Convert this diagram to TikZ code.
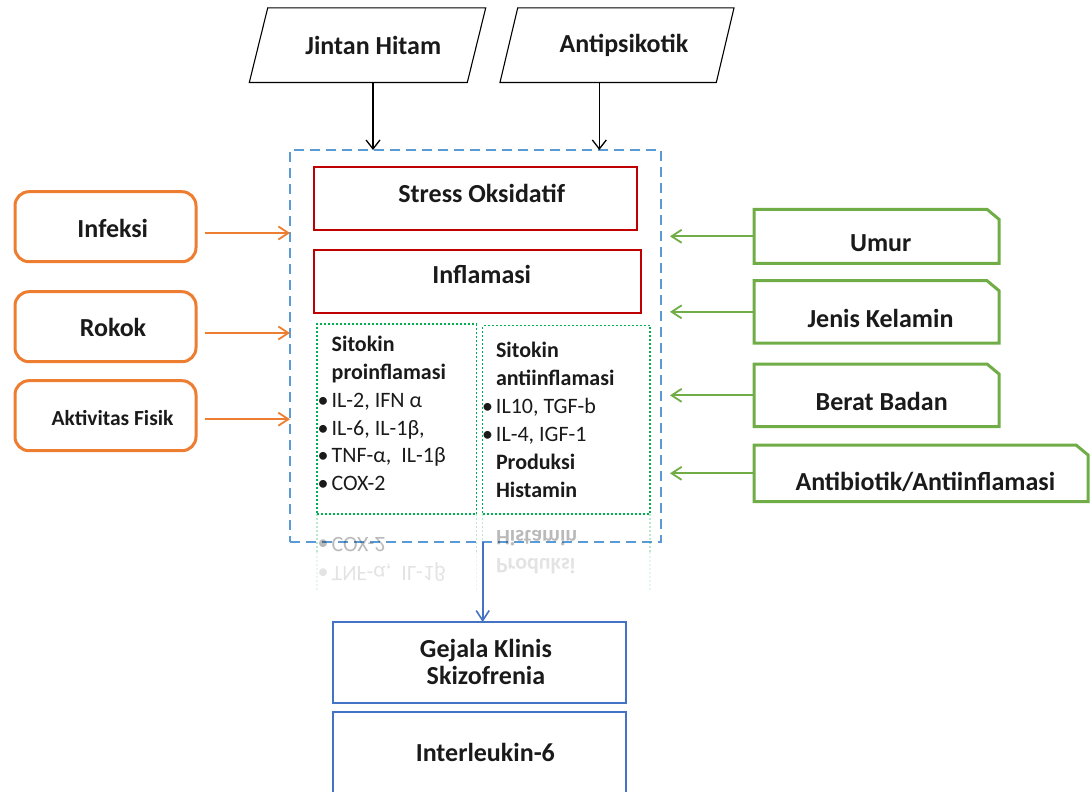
\documentclass[tikz,border=0pt]{standalone}
\usepackage{fontspec}
\setmainfont{Carlito}
\usepackage{graphicx}
\usetikzlibrary{arrows.meta,calc}

\definecolor{orng}{HTML}{ED7D31}
\definecolor{grn}{HTML}{70AD47}
\definecolor{dotgrn}{HTML}{00B050}
\definecolor{frameblue}{HTML}{5B9BD5}
\definecolor{boxred}{HTML}{C00000}
\definecolor{boxblue}{HTML}{4472C4}
\definecolor{txt}{HTML}{1A1A1A}

\newcommand{\bul}{\llap{\textbullet\hspace{3pt}}}

\begin{document}
\begin{tikzpicture}[x=1pt,y=-1pt,
  every node/.style={inner sep=0pt, outer sep=0pt, text=txt},
  lbl/.style={font=\bfseries\fontsize{26}{31}\selectfont},
  smlbl/.style={font=\bfseries\fontsize{21.5}{26}\selectfont},
  sitext/.style={font=\fontsize{22}{27.7}\selectfont, align=left, anchor=north west},
  para/.style={draw=none},
  obox/.style={draw=orng, line width=3pt, rounded corners=14pt, minimum width=181pt, minimum height=70pt},
  rbox/.style={draw=boxred, line width=1.6pt, minimum height=63pt},
  bbox/.style={draw=boxblue, line width=1.6pt, minimum width=292.7pt},
  gbox/.style={draw=none, minimum height=#1},
  dotbox/.style={draw=dotgrn, line width=1.4pt, dash pattern=on 2pt off 2pt},
  frame/.style={draw=frameblue, line width=1.5pt, dash pattern=on 10pt off 6pt, minimum width=371pt, minimum height=392pt},
  snip/.style={draw=grn, line width=3pt, line join=miter},
  karrow/.style={draw=black, line width=1.3pt, -{Straight Barb[length=9pt,width=14pt,line width=1.3pt]}},
  oarrow/.style={draw=orng, line width=1.8pt, -{Straight Barb[length=10pt,width=13pt,line width=1.8pt]}},
  garrow/.style={draw=grn, line width=1.8pt, -{Straight Barb[length=10pt,width=13pt,line width=1.8pt]}},
  barrow/.style={draw=boxblue, line width=1.6pt, -{Straight Barb[length=10pt,width=13pt,line width=1.6pt]}},
]
\useasboundingbox (0,0) rectangle (1092,792);

% ---- inputs at the top (parallelograms)
\node[para, minimum width=236.4pt, minimum height=74.5pt,
      label={[lbl,xshift=5.8pt]center:Jintan Hitam}] (jintan) at (367.5,45.2) {};
\draw[line width=1.1pt] ([xshift=18.4pt]jintan.north west) -- (jintan.north east)
  -- ([xshift=-18.4pt]jintan.south east) -- (jintan.south west) -- cycle;
\node[para, minimum width=234pt, minimum height=74.5pt,
      label={[lbl,xshift=7pt]center:Antipsikotik}] (antip) at (617,45.2) {};
\draw[line width=1.1pt] ([xshift=17.7pt]antip.north west) -- (antip.north east)
  -- ([xshift=-17.7pt]antip.south east) -- (antip.south west) -- cycle;

% ---- dashed frame around the central mechanism
\node[frame] (frame) at (475.5,346) {};

\node[rbox, minimum width=323pt, label={[lbl,xshift=6.2pt,yshift=5.2pt]center:Stress Oksidatif}] (stress) at (475.5,198.5) {};
\node[rbox, minimum width=327pt, label={[lbl,xshift=4.2pt,yshift=7pt]center:Inflamasi}] (inflam) at (477.5,281.5) {};

% ---- cytokine boxes
\node[dotbox, minimum width=159.7pt, minimum height=190pt] (pro) at (396.85,419) {};
\node[dotbox, minimum width=167.3pt, minimum height=188.3pt] (anti) at (566.35,419.85) {};

\node[sitext] (protxt) at (331.7,336.5) {%
  \textbf{Sitokin}\\
  \textbf{proinflamasi}\\
  \bul IL-2, IFN α\\
  \bul IL-6, IL-1β,\\
  \bul TNF-α,\ \ IL-1β\\
  \bul COX-2};
\node[sitext, font=\fontsize{22}{27.9}\selectfont] (antitxt) at (496,342.2) {%
  \textbf{Sitokin}\\
  \textbf{antiinflamasi}\\
  \bul IL10, TGF-b\\
  \bul IL-4, IGF-1\\
  \textbf{Produksi}\\
  \textbf{Histamin}};

% ---- mirrored reflection under the cytokine boxes
\foreach \xx in {317,476.7,482.7,650} {
  \draw[dotgrn, line width=1.2pt, dash pattern=on 2pt off 2pt, opacity=0.28] (\xx,514) -- (\xx,552);
  \draw[dotgrn, line width=1.2pt, dash pattern=on 2pt off 2pt, opacity=0.1] (\xx,552) -- (\xx,592);
}
\node[font=\fontsize{22}{26}\selectfont, anchor=west, opacity=0.3] (refcox) at (331.7,545) {\scalebox{1}[-1]{\llap{\textbullet\hspace{3pt}}COX-2}};
\node[font=\fontsize{22}{26}\selectfont, anchor=west, opacity=0.12] (reftnf) at (331.7,572) {\scalebox{1}[-1]{\llap{\textbullet\hspace{3pt}}TNF-α,\ \ IL-1β}};
\node[font=\bfseries\fontsize{22}{26}\selectfont, anchor=west, opacity=0.3] (refhis) at (496,538) {\scalebox{1}[-1]{Histamin}};
\node[font=\bfseries\fontsize{22}{26}\selectfont, anchor=west, opacity=0.12] (refprod) at (496,566) {\scalebox{1}[-1]{Produksi}};

% ---- left factors
\node[obox, label={[lbl,xshift=7.3pt,yshift=-1.6pt]center:Infeksi}] (infeksi) at (105.5,226.7) {};
\node[obox, label={[lbl,xshift=7.5pt,yshift=-0.8pt]center:Rokok}] (rokok) at (105.5,326.7) {};
\node[obox, label={[smlbl,xshift=7pt,yshift=-2.6pt]center:Aktivitas Fisik}] (aktiv) at (105.5,415.7) {};

% ---- right factors (snipped-corner boxes)
\node[gbox=54pt, minimum width=245pt, label={[lbl,xshift=4.2pt,yshift=-7pt]center:Umur}] (umur) at (876.5,236.3) {};
\node[gbox=62.3pt, minimum width=245pt, label={[lbl,xshift=4pt,yshift=-6.2pt]center:Jenis Kelamin}] (jenis) at (876.5,311.85) {};
\node[gbox=62.7pt, minimum width=245pt, label={[lbl,xshift=5.2pt,yshift=-5.7pt]center:Berat Badan}] (berat) at (876.5,395.35) {};
\node[gbox=56.7pt, minimum width=334pt, label={[lbl,xshift=4.3pt,yshift=-8.3pt]center:Antibiotik/Antiinflamasi}] (antib) at (921,473.35) {};
\foreach \n in {umur,jenis,berat,antib} {
  \draw[snip] (\n.north west) -- ([xshift=-12pt]\n.north east) -- ([yshift=-10pt]\n.north east)
    -- (\n.south east) -- (\n.south west) -- cycle;
}

% ---- outcome boxes
\node[bbox, minimum height=81pt, label={[lbl,xshift=6.6pt,yshift=0.5pt,align=center,font=\bfseries\fontsize{26}{27.5}\selectfont]center:Gejala Klinis\\Skizofrenia}] (gejala) at (479.35,662.5) {};
\node[bbox, minimum height=88.3pt, label={[lbl,xshift=6pt,yshift=3.4pt]center:Interleukin-6}] (il6) at (479.35,755.85) {};

% ---- connectors
\coordinate (jout) at ([xshift=5.5pt]jintan.south);
\coordinate (aout) at ([xshift=-17.7pt]antip.south);
\draw[karrow] (jout) -- (jout |- frame.north);
\draw[karrow] (aout) -- (aout |- frame.north);

\foreach \n in {infeksi,rokok} {
  \coordinate (\n-o) at ($(\n.east)+(9,6.3)$);
  \draw[oarrow] (\n-o) -- (\n-o -| frame.west);
}
\coordinate (aktiv-o) at ($(aktiv.east)+(9,3.5)$);
\draw[oarrow] (aktiv-o) -- (aktiv-o -| frame.west);

\foreach \n in {umur,jenis,berat,antib} {
  \coordinate (\n-t) at ($(\n.west -| frame.east)+(9,0)$);
  \draw[garrow] (\n.west) -- (\n-t);
}

\draw[barrow] (anti.west |- frame.south) -- (anti.west |- gejala.north);
\end{tikzpicture}
\end{document}
